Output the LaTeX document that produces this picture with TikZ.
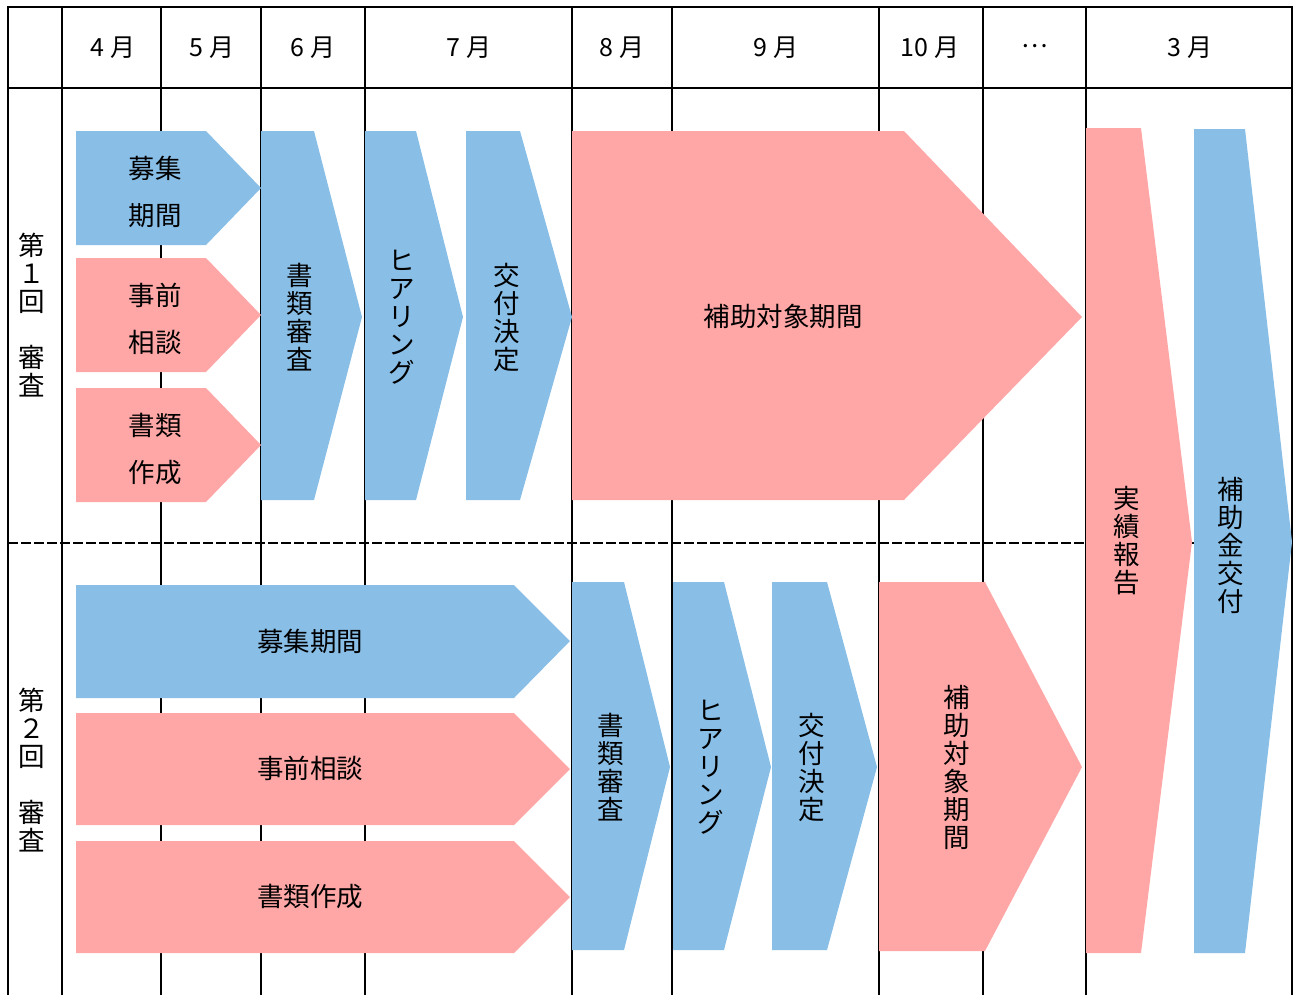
\documentclass[tikz,border=0pt]{standalone}
\usepackage{fontspec}
\newfontfamily\jp{Noto Sans CJK JP}
\definecolor{boxblue}{RGB}{137,191,231}
\definecolor{boxpink}{RGB}{255,167,167}
\begin{document}
\begin{tikzpicture}[x=1pt,y=-1pt,
  gridline/.style={line width=2.6pt, line cap=rect},
  dashline/.style={line width=2.6pt, dash pattern=on 10pt off 3pt},
  blu/.style={fill=boxblue},
  pnk/.style={fill=boxpink},
  head/.style={font=\jp\fontsize{25}{28}\selectfont, inner sep=0},
  lbl/.style={font=\jp\fontsize{26.5}{28}\selectfont, align=center, inner sep=0},
  lbltwo/.style={font=\jp\fontsize{26.5}{47}\selectfont, align=center, inner sep=0}]
\useasboundingbox (0,0) rectangle (1295,994);
% grid
\draw[gridline] (8,994) -- (8,7) -- (1292,7) -- (1292,994);
\draw[gridline] (8,88) -- (1292,88);
\foreach \x in {62,161,261,365,572,672,879,983,1086}
  \draw[gridline] (\x,7) -- (\x,994);
\draw[dashline] (8,543) -- (1292,543);
% header
\node[head] (h4) at (113,48) {4 月};
\node[head] (h5) at (212,48) {5 月};
\node[head] (h6) at (313,48) {6 月};
\node[head] (h7) at (469,48) {7 月};
\node[head] (h8) at (622,48) {8 月};
\node[head] (h9) at (776,48) {9 月};
\node[head] (h10) at (930,48) {10 月};
\node[head] (hd) at (1035,46) {…};
\node[head] (h3) at (1190,48) {3 月};
% row labels
\node[lbl] (r1) at (32,315) {第\\１\\回\\[28pt]審\\査};
\node[lbl] (r2) at (32,770) {第\\２\\回\\[28pt]審\\査};
% row 1 shapes
\fill[blu] (76,131) -- (206,131) -- (261,188) -- (206,245) -- (76,245) -- cycle;
\fill[pnk] (76,258) -- (206,258) -- (261,315) -- (206,372) -- (76,372) -- cycle;
\fill[pnk] (76,388) -- (206,388) -- (261,445) -- (206,502) -- (76,502) -- cycle;
\fill[blu] (261,131) -- (314,131) -- (362,317) -- (314,500) -- (261,500) -- cycle;
\fill[blu] (365,131) -- (416,131) -- (463,317) -- (416,500) -- (365,500) -- cycle;
\fill[blu] (466,131) -- (520,131) -- (572,317) -- (520,500) -- (466,500) -- cycle;
\fill[pnk] (572,131) -- (904,131) -- (1082,317) -- (904,500) -- (572,500) -- cycle;
% row 2 shapes
\fill[blu] (76,585) -- (514,585) -- (570,641) -- (514,698) -- (76,698) -- cycle;
\fill[pnk] (76,713) -- (514,713) -- (570,769) -- (514,825) -- (76,825) -- cycle;
\fill[pnk] (76,841) -- (514,841) -- (570,897) -- (514,953) -- (76,953) -- cycle;
\fill[blu] (572,582) -- (624,582) -- (670,767) -- (624,950) -- (572,950) -- cycle;
\fill[blu] (673,582) -- (724,582) -- (771,767) -- (724,950) -- (673,950) -- cycle;
\fill[blu] (772,582) -- (827,582) -- (877,767) -- (827,950) -- (772,950) -- cycle;
\fill[pnk] (879,582) -- (985,582) -- (1082,767) -- (985,951) -- (879,951) -- cycle;
% final shapes
\fill[pnk] (1086,128) -- (1141,128) -- (1192,542) -- (1141,953) -- (1086,953) -- cycle;
\fill[blu] (1194,129) -- (1245,129) -- (1292,542) -- (1245,953) -- (1194,953) -- cycle;
% row 1 texts
\node[lbltwo] (a1) at (155,192) {募集\\期間};
\node[lbltwo] (a2) at (155,319) {事前\\相談};
\node[lbltwo] (a3) at (155,449) {書類\\作成};
\node[lbl] (a4) at (300,317) {書\\類\\審\\査};
\node[lbl] (a5) at (402,317) {ヒ\\ア\\リ\\ン\\グ};
\node[lbl] (a6) at (507,317) {交\\付\\決\\定};
\node[lbl] (a7) at (783,316) {補助対象期間};
% row 2 texts
\node[lbl] (b1) at (310,641) {募集期間};
\node[lbl] (b2) at (310,768) {事前相談};
\node[lbl] (b3) at (310,896) {書類作成};
\node[lbl] (b4) at (611,767) {書\\類\\審\\査};
\node[lbl] (b5) at (711,767) {ヒ\\ア\\リ\\ン\\グ};
\node[lbl] (b6) at (812,767) {交\\付\\決\\定};
\node[lbl] (b7) at (957,767) {補\\助\\対\\象\\期\\間};
% final texts
\node[lbl] (c1) at (1127,541) {実\\績\\報\\告};
\node[lbl] (c2) at (1231,545) {補\\助\\金\\交\\付};
\end{tikzpicture}
\end{document}
